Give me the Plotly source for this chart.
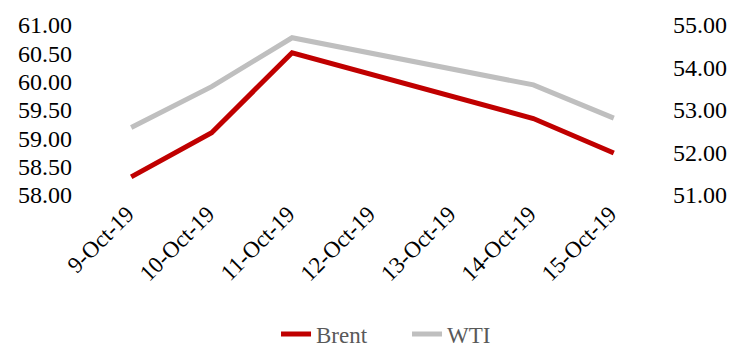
import plotly.graph_objects as go

# Daily crude benchmarks, USD/bbl (weekend dates carry no settlement)
dates = ["9-Oct-19", "10-Oct-19", "11-Oct-19", "12-Oct-19", "13-Oct-19", "14-Oct-19", "15-Oct-19"]
brent = [58.32, 59.10, 60.51, None, None, 59.35, 58.74]
wti = [52.59, 53.55, 54.70, None, None, 53.59, 52.81]

left_ticks = [58.0, 58.5, 59.0, 59.5, 60.0, 60.5, 61.0]
right_ticks = [51.0, 52.0, 53.0, 54.0, 55.0]

font_family = "Liberation Serif, Times New Roman, serif"

fig = go.Figure()
fig.add_trace(go.Scatter(
    x=dates, y=brent, name="Brent", mode="lines", connectgaps=True,
    line=dict(color="#C00000", width=5),
))
fig.add_trace(go.Scatter(
    x=dates, y=wti, name="WTI", mode="lines", connectgaps=True, yaxis="y2",
    line=dict(color="#BFBFBF", width=5),
))

fig.update_layout(
    width=740, height=348,
    margin=dict(l=91, r=86, t=23, b=153),
    paper_bgcolor="white", plot_bgcolor="white",
    font=dict(family=font_family, size=23, color="black"),
    showlegend=True,
    legend=dict(
        orientation="h", x=0.373, xref="container", xanchor="left",
        y=0.04, yref="container", yanchor="middle",
        font=dict(family=font_family, size=23, color="#595959"),
        entrywidth=86, entrywidthmode="pixels",
    ),
    xaxis=dict(
        type="category", range=[-0.5, 6.5], tickangle=-45,
        showgrid=False, showline=False, ticks="", zeroline=False,
        tickfont=dict(size=23), ticklabelshift=-4,
    ),
    yaxis=dict(
        range=[58.0, 61.0], tickvals=left_ticks,
        ticktext=[f"{v:.2f}" for v in left_ticks],
        showgrid=False, showline=False, ticks="", zeroline=False,
        ticklabelstandoff=18, tickfont=dict(size=24),
    ),
    yaxis2=dict(
        range=[51.0, 55.0], tickvals=right_ticks,
        ticktext=[f"{v:.2f}" for v in right_ticks],
        overlaying="y", side="right",
        showgrid=False, showline=False, ticks="", zeroline=False,
        ticklabelstandoff=18, tickfont=dict(size=24),
    ),
)

fig.write_html("out.html")
